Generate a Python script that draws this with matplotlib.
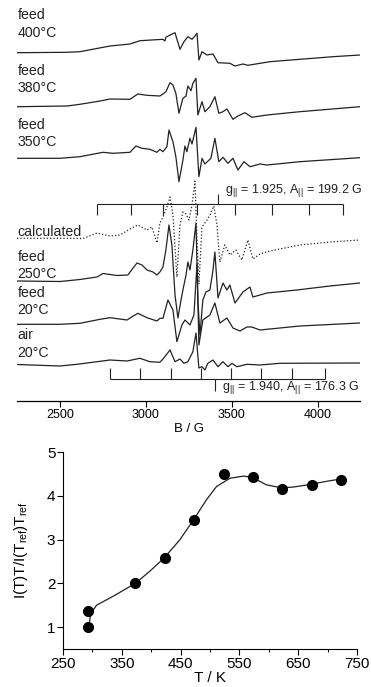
import matplotlib.pyplot as plt
from matplotlib.ticker import MultipleLocator

plt.rcParams['font.family'] = ['Liberation Sans', 'DejaVu Sans']
plt.rcParams['mathtext.fontset'] = 'custom'
plt.rcParams['mathtext.rm'] = 'Liberation Sans'
plt.rcParams['mathtext.it'] = 'Liberation Sans:italic'

# EPR spectra: field (G) and signal (arb. units)
b_400 = [2250, 2541, 2616, 2791, 2907, 2965, 3099, 3110, 3116, 3140, 3169, 3198, 3221, 3244, 3268,
         3285, 3297, 3308, 3326, 3355, 3390, 3419, 3488, 3518, 3564, 3593, 3721, 3895, 4087, 4244]
s_400 = [0.3, 0.7, 1.3, 7, 9, 12.3, 13.7, 12, 15.7, 18, 20.3, 3.7, 11.3, 16.3, 13.7,
         17, 19.7, -7, 1.3, -2, -1, -9.7, -10.3, -13, -11, -12.3, -8.7, -6.3, -3.7, -2]

b_380 = [2250, 2541, 2616, 2733, 2791, 2907, 2953, 3006, 3081, 3099, 3116, 3140, 3157, 3174, 3192,
         3215, 3233, 3244, 3262, 3273, 3291, 3302, 3326, 3343, 3372, 3401, 3424, 3448, 3471, 3488,
         3506, 3535, 3576, 3616, 3704, 3895, 4244]
s_380 = [0.3, 1, 2.7, 6, 8, 7.7, 13, 11.7, 11, 13, 15.3, 24.3, 22, 13.7, -6.3,
         8.7, 11, 21, 16.3, 23.7, 28.7, -8, 5.3, -4.7, 0.3, 10.3, -6.3, -4.7, -2, -7,
         -12.3, -9, -5.7, -10.3, -8, -4.7, 0.3]

b_350 = [2250, 2500, 2616, 2750, 2808, 2907, 2942, 2977, 3023, 3064, 3081, 3099, 3122, 3134, 3157,
         3174, 3192, 3215, 3227, 3238, 3256, 3268, 3291, 3308, 3326, 3343, 3378, 3401, 3424, 3448,
         3477, 3506, 3535, 3570, 3605, 3663, 3704, 3895, 4244]
s_350 = [-0.3, -0.3, 1.3, 5.7, 4.7, 5.7, 12, 9.7, 8.7, 5.7, 8.7, 6.3, 11.3, 28, 16.3,
         1.3, -23.7, -2, 12, 6.3, 19.7, 14, 30.7, -18.7, -0.3, -6, -0.3, 19.7, -3.7, 0.7,
         -5.3, -0.3, -12, -3.7, -8.7, -6, -7, -3.7, 0.3]

b_calc = [2250, 2500, 2634, 2715, 2791, 2849, 2907, 2953, 3006, 3035, 3064, 3081, 3099, 3122, 3140,
          3157, 3180, 3198, 3215, 3233, 3250, 3268, 3285, 3297, 3308, 3326, 3355, 3372, 3395, 3413,
          3430, 3459, 3488, 3523, 3558, 3593, 3622, 3663, 3721, 3895, 4070, 4244]
s_calc = [-0.3, -0.3, -0.5, 5, 2, 3, 9, 13, 8, 11, -5, 15, 21, 31, 41,
          23, -39, 13, 26, 24, 18, 33, 57, -2, -46, 11, 18, 23, 32, 13,
          -24, -7, -17, -12, -22, -2, -21, -16, -13, -7, -4, -2]

b_250 = [2250, 2500, 2616, 2715, 2750, 2791, 2831, 2895, 2925, 2948, 2977, 3006, 3041, 3064, 3081,
         3099, 3116, 3134, 3151, 3169, 3186, 3204, 3215, 3233, 3244, 3256, 3273, 3291, 3302, 3314,
         3331, 3349, 3372, 3390, 3401, 3419, 3448, 3471, 3488, 3518, 3564, 3605, 3622, 3704, 3878,
         4070, 4244]
s_250 = [0, -0.5, 1.5, 4, 7.5, 6.5, 5.5, 6, 13, 18, 16, 11, 9, 6, 9,
         14, 31, 56, 36, -14, -37, -19, -9, 6, 19, 11, 31, 58, -19, -54,
         -19, -11, -9, 11, 29, -17, -2, -9, -4, -22, -11, -6, -16, -12, -9,
         -5, -2]

b_20 = [2250, 2500, 2616, 2733, 2791, 2890, 2919, 2953, 3006, 3064, 3081, 3099, 3128, 3157, 3180,
        3209, 3227, 3256, 3279, 3297, 3308, 3331, 3372, 3401, 3430, 3471, 3506, 3547, 3587, 3616,
        3663, 3779, 3895, 4244]
s_20 = [-0.3, -0.3, 0.7, 4.7, 6.3, 4, 7.3, 10.7, 6.3, 3, 5.7, 5.7, 24, 14, -17.7,
        -1, 4, -1, 9, 60, -21, 4, 9, 21, 1, 6, -4, -7, -3, -3,
        -6, -4, -2, 1]

b_air = [2250, 2500, 2599, 2791, 2890, 2965, 3023, 3081, 3099, 3140, 3169, 3198, 3221, 3244, 3273,
         3291, 3308, 3326, 3343, 3360, 3390, 3419, 3448, 3477, 3500, 3529, 3587, 3663, 3779, 4244]
s_air = [0.5, -1, 0.7, 5, 4, 6.7, 3.3, 2.7, 6, 15, 3.3, 6, 1.7, 3.3, 13.3,
         32, -3, -1.7, -5, 1.7, 5, -1.7, 3.3, -1.7, 1.7, -1.7, 0.7, 0, 1.7, 2]

# hyperfine stick positions (G)
sticks_925 = [2715, 2913, 3099, 3297, 3518, 3733, 3948, 4145]
center_925 = 3419
sticks_940 = [2791, 2965, 3145, 3320, 3494, 3668, 3849, 4041]
center_940 = 3404

# relative intensity vs temperature
T_pts = [293, 293, 373, 423, 473, 523, 573, 623, 673, 723]
I_pts = [1.0, 1.37, 2.0, 2.58, 3.45, 4.5, 4.42, 4.15, 4.25, 4.37]
T_fit = [295, 297, 307, 336, 373, 398, 422, 449, 472, 494, 511, 534, 557, 572, 596, 622, 642, 671, 698, 721]
I_fit = [1.11, 1.30, 1.50, 1.71, 2.0, 2.28, 2.58, 3.0, 3.45, 3.91, 4.21, 4.40, 4.45, 4.42, 4.25, 4.18, 4.2, 4.26, 4.33, 4.38]

col = '#222222'
fig = plt.figure(figsize=(3.71, 6.87), dpi=100)

# ---- top: spectra
ax = fig.add_axes([17/371, 1 - 401/687, 343/371, 401/687])
traces = [
    (b_400, s_400, 348, '-'),
    (b_380, s_380, 294, '-'),
    (b_350, s_350, 243, '-'),
    (b_calc, s_calc, 163, ':'),
    (b_250, s_250, 120, '-'),
    (b_20, s_20, 77, '-'),
    (b_air, s_air, 36, '-'),
]
for b, s, off, ls in traces:
    ax.plot(b, [v + off for v in s], ls, color=col, lw=0.9)

labels = [('feed', 386), ('400°C', 368), ('feed', 330), ('380°C', 313),
          ('feed', 276), ('350°C', 259), ('calculated', 169),
          ('feed', 144), ('250°C', 127), ('feed', 108), ('20°C', 91),
          ('air', 66), ('20°C', 48)]
for txt, y in labels:
    ax.text(2252, y, txt, fontsize=10.2, ha='left', va='center', color=col)

# stick diagram g = 1.925
ax.hlines(197, sticks_925[0], sticks_925[-1], color=col, lw=0.8)
ax.vlines(sticks_925, 186, 197, color=col, lw=0.8)
ax.vlines(center_925, 197, 207, color=col, lw=0.8)
ax.text(3462, 210, r'g$_{||}$ = 1.925, A$_{||}$ = 199.2 G', fontsize=9, va='center', color=col)

# stick diagram g = 1.940
ax.hlines(22, sticks_940[0], sticks_940[-1], color=col, lw=0.8)
ax.vlines(sticks_940, 22, 33, color=col, lw=0.8)
ax.vlines(center_940, 10, 22, color=col, lw=0.8)
ax.text(3445, 13, r'g$_{||}$ = 1.940, A$_{||}$ = 176.3 G', fontsize=9, va='center', color=col)

ax.set_xlim(2250, 4245)
ax.set_ylim(0, 401)
for sp in ['left', 'right', 'top']:
    ax.spines[sp].set_visible(False)
ax.spines['bottom'].set_linewidth(0.9)
ax.set_yticks([])
ax.set_xticks([2500, 3000, 3500, 4000])
ax.tick_params(axis='x', direction='out', length=4, width=0.8, labelsize=9, pad=2)
ax.set_xlabel('B / G', fontsize=9.5, labelpad=1)

# ---- bottom: intensity vs T
ax2 = fig.add_axes([63/371, 38/687, 294/371, 197/687])
ax2.plot(T_fit, I_fit, '-', color=col, lw=0.9)
ax2.plot(T_pts, I_pts, 'o', color='black', ms=7)
ax2.set_xlim(250, 750)
ax2.set_ylim(0.5, 5)
ax2.spines['top'].set_visible(False)
ax2.spines['right'].set_visible(False)
ax2.set_xticks(range(250, 751, 100))
ax2.xaxis.set_minor_locator(MultipleLocator(50))
ax2.set_yticks([1, 2, 3, 4, 5])
ax2.tick_params(direction='out', length=4, width=0.8, labelsize=11, pad=1.5)
ax2.tick_params(which='minor', direction='out', length=2.5, width=0.8)
ax2.set_xlabel('T / K', fontsize=11, labelpad=0)
ax2.set_ylabel(r'I(T)T/I(T$_{\mathrm{ref}}$)T$_{\mathrm{ref}}$', fontsize=11, labelpad=12)

fig.savefig('out.png', dpi=100)
